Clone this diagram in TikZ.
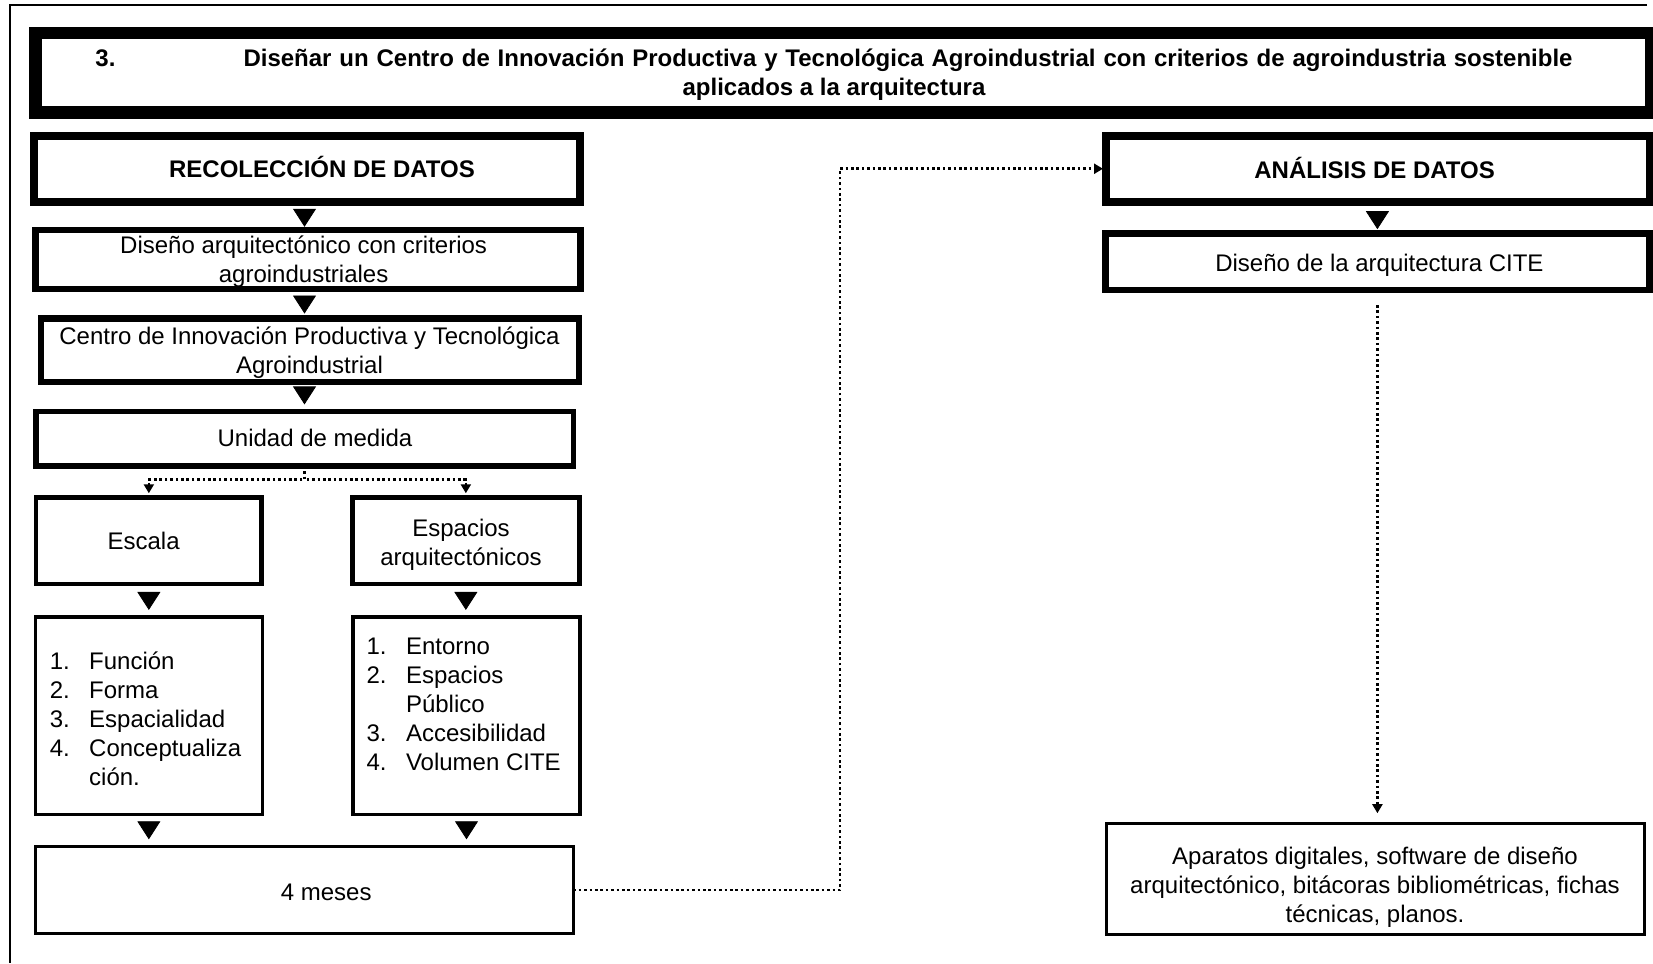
\documentclass[tikz,border=0pt]{standalone}
\usepackage{fontspec}
\setmainfont{Liberation Sans}
\usetikzlibrary{arrows.meta}
\begin{document}
\begin{tikzpicture}[x=0.5pt,y=-0.5pt,
  every node/.style={inner sep=0pt, outer sep=0pt, text=black, font=\fontsize{12}{14.5}\selectfont},
  box/.style={draw=black, line width=#1},
  one/.style={text height=8.6pt, text depth=0pt},
  multi/.style={align=center},
  hd/.style={font=\fontsize{12}{14.5}\selectfont\bfseries},
  bigarr/.style={draw=white, line width=0.4pt, shorten <=3pt, shorten >=#1,
     -{Triangle[length=9pt,width=11.5pt,color=black,fill=black]}},
  dotl/.style={draw=black, line width=1.3pt, dash pattern=on 1.3pt off 1.4pt,
     -{Triangle[length=4.5pt,width=5pt]}},
  frame/.style={draw=black, line width=1.1pt}
]
\fill[white] (0,0) rectangle (1653,963);
\useasboundingbox (0,0) rectangle (1653,963);

% outer frame
\coordinate (ftl) at (10,5);
\coordinate (ftr) at (1647,5);
\coordinate (fbl) at (10,963);
\draw[frame] (ftr) -- (ftl) -- (fbl);

% boxes
\node[box=6.4pt, minimum width=808.15pt, minimum height=39.75pt] (btitle) at (843.25,72.85) {};
\node[box=4pt, minimum width=273.1pt, minimum height=33.25pt] (brec) at (307.1,168.75) {};
\node[box=3.25pt, minimum width=272.5pt, minimum height=29.5pt] (bdis) at (307.75,259.5) {};
\node[box=3.25pt, minimum width=268.8pt, minimum height=31.85pt] (bcen) at (310,350.2) {};
\node[box=2.75pt, minimum width=268.75pt, minimum height=27.25pt] (buni) at (304.5,438.5) {};
\node[box=2.25pt, minimum width=112.85pt, minimum height=43.25pt] (besc) at (148.85,540.5) {};
\node[box=2.25pt, minimum width=113.6pt, minimum height=43.25pt] (besp) at (465.85,540.5) {};
\node[box=1.75pt, minimum width=113.4pt, minimum height=98.75pt] (blistl) at (148.85,715.5) {};
\node[box=1.75pt, minimum width=113.5pt, minimum height=98.75pt] (blistr) at (466.5,715.5) {};
\node[box=1.5pt, minimum width=269.05pt, minimum height=43.5pt] (bmes) at (304.25,890) {};
\node[box=4pt, minimum width=272pt, minimum height=33.25pt] (bana) at (1378,168.75) {};
\node[box=3.25pt, minimum width=272.1pt, minimum height=28.3pt] (bcite) at (1377.4,261.7) {};
\node[box=1.5pt, minimum width=268.85pt, minimum height=55.65pt] (bapa) at (1375.2,878.85) {};

% texts
\node[hd,one] (tt3) at (105.5,57.5) {3.};
\node[hd,one] (ttl1) at (908,57.5) {\makebox[664.5pt][s]{Diseñar un Centro de Innovación Productiva y Tecnológica Agroindustrial con criterios de agroindustria sostenible}};
\node[hd,one] (ttl2) at (834,86.5) {aplicados a la arquitectura};
\node[hd,one] (trec) at (322,168.7) {RECOLECCIÓN DE DATOS};
\node[multi] (tdis) at (303.6,261.5) {Diseño arquitectónico con criterios\\agroindustriales};
\node[multi] (tcen) at (309.5,352.5) {Centro de Innovación Productiva y Tecnológica\\Agroindustrial};
\node[one] (tuni) at (315,437.7) {Unidad de medida};
\node[one] (tesc) at (143.6,541) {Escala};
\node[multi] (tesp) at (461,544.5) {Espacios\\arquitectónicos};
\node[anchor=west] (tlistl) at (49.8,721.3) {\begin{tabular}{@{}l@{\hspace{9.7pt}}l@{}}1. & Función\\ 2. & Forma\\ 3. & Espacialidad\\ 4. & Conceptualiza\\ & ción.\end{tabular}};
\node[anchor=west] (tlistr) at (366.6,706.5) {\begin{tabular}{@{}l@{\hspace{9.7pt}}l@{}}1. & Entorno\\ 2. & Espacios\\ & Público\\ 3. & Accesibilidad\\ 4. & Volumen CITE\end{tabular}};
\node[one] (tmes) at (326.2,891.5) {4 meses};
\node[hd,one] (tana) at (1374.6,169.5) {ANÁLISIS DE DATOS};
\node[one] (tcite) at (1379.4,263) {Diseño de la arquitectura CITE};
\node[multi] (tapa) at (1375,887.5) {Aparatos digitales, software de diseño\\arquitectónico, bitácoras bibliométricas, fichas\\técnicas, planos.};

% solid triangle arrows
\draw[bigarr=1.6pt] (brec.south -| buni.south) -- (bdis.north -| buni.south);
\draw[bigarr=2.4pt] (bdis.south -| buni.south) -- (bcen.north -| buni.south);
\draw[bigarr=3.4pt] (bcen.south -| buni.south) -- (buni.north);
\draw[bigarr=3.4pt] (besc.south) -- (blistl.north);
\draw[bigarr=3.4pt] (besp.south) -- (besp.south |- blistr.north);
\draw[bigarr=3.6pt] (blistl.south) -- (blistl.south |- bmes.north);
\draw[bigarr=3.6pt] (blistr.south) -- (blistr.south |- bmes.north);
\draw[bigarr=2.1pt] (bana.south -| bcite.north) -- (bcite.north);

% dotted connectors
\draw[dotl, shorten >=2pt] (buni.south) -- ++(0,14) -| (besc.north);
\draw[dotl, shorten >=2pt] (buni.south) -- ++(0,14) -| (besp.north);
\draw[dotl, shorten >=1.5pt] (bmes.east) -- ++(266.7,0) |- (bana.west);
\draw[dotl, shorten <=7.5pt, shorten >=5pt] (bcite.south) -- (bcite.south |- bapa.north);
\end{tikzpicture}
\end{document}
